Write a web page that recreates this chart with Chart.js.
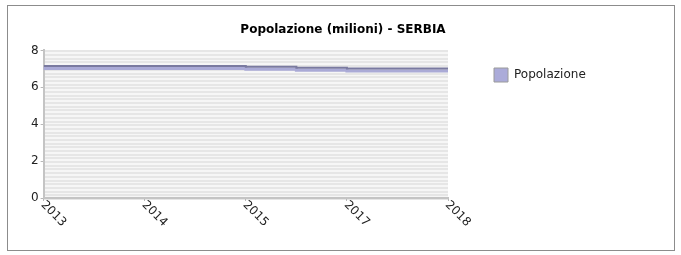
<!DOCTYPE html>
<html>
<head>
<meta charset="utf-8">
<script src="https://cdn.jsdelivr.net/npm/chart.js@4/dist/chart.umd.min.js"></script>
<style>
  body { margin: 0; background: #fff; }
  #box { position: absolute; left: 7px; top: 5px; width: 666px; height: 244px; border: 1px solid #8c8c8c; }
  #box canvas { display: block; }
</style>
</head>
<body>
<div id="box"><canvas id="popChart" width="666" height="244"></canvas></div>
<script>
// positions on the x axis (tick index), 2016 sits half way between 2015 and 2017
const xPos = [0, 1, 2, 2.5, 3, 4];
const popValues = [7.15, 7.15, 7.11, 7.06, 7.02, 7.02];
const xLabels = ["2013", "2014", "2015", "2017", "2018"];
const yTicks = [0, 2, 4, 6, 8];

const FONT = "'DejaVu Sans', sans-serif";
const LEGEND_W = 209;

// striped plot background
const stripes = {
  id: "stripes",
  beforeDraw(chart) {
    const { ctx, chartArea: a, scales } = chart;
    ctx.save();
    ctx.fillStyle = "#f6f6f6";
    ctx.fillRect(a.left, a.top, a.right - a.left, a.bottom - a.top);
    ctx.strokeStyle = "#e6e6e6";
    ctx.lineWidth = 2;
    for (let v = 0; v <= 8.001; v += 0.2) {
      const y = Math.round(scales.y.getPixelForValue(v)) + 1;
      ctx.beginPath();
      ctx.moveTo(a.left, y);
      ctx.lineTo(a.right, y);
      ctx.stroke();
    }
    ctx.restore();
  },
};

// light band under the step line
const band = {
  id: "band",
  beforeDatasetsDraw(chart) {
    const pts = chart.getDatasetMeta(0).data;
    const ctx = chart.ctx;
    ctx.save();
    ctx.strokeStyle = "#aaaad6";
    ctx.lineWidth = 3;
    ctx.translate(0, 2.5);
    ctx.beginPath();
    pts.forEach((p, i) => {
      if (i === 0) ctx.moveTo(p.x, p.y);
      else {
        ctx.lineTo(p.x, pts[i - 1].y);
        ctx.lineTo(p.x, p.y);
      }
    });
    ctx.stroke();
    ctx.restore();
  },
};

// rotated x tick labels (reading down to the right)
const xTickLabels = {
  id: "xTickLabels",
  afterDraw(chart) {
    const { ctx } = chart;
    const sx = chart.scales.x;
    ctx.save();
    ctx.font = "12px " + FONT;
    ctx.fillStyle = "#222";
    ctx.textAlign = "left";
    ctx.textBaseline = "middle";
    sx.ticks.forEach((t) => {
      const lbl = xLabels[Math.round(t.value)];
      if (lbl === undefined) return;
      const x = sx.getPixelForValue(t.value);
      ctx.save();
      ctx.translate(x - 1, sx.top + 5);
      ctx.rotate(Math.PI / 4);
      ctx.fillText(lbl, 0, 0);
      ctx.restore();
    });
    ctx.restore();
  },
};

// keep the legend column wide so the plot ends where the reference does
const wideLegend = {
  id: "wideLegend",
  afterInit(chart) {
    const lg = chart.legend;
    const fit = lg.fit;
    lg.fit = function () {
      fit.call(this);
      this.width = LEGEND_W;
    };
  },
};

new Chart(document.getElementById("popChart"), {
  type: "line",
  data: {
    datasets: [
      {
        label: "Popolazione",
        data: xPos.map((x, i) => ({ x: x, y: popValues[i] })),
        stepped: "before",
        borderColor: "#7a7aa0",
        backgroundColor: "#ababd9",
        borderWidth: 2,
        pointRadius: 0,
        fill: false,
      },
    ],
  },
  options: {
    responsive: false,
    animation: false,
    layout: { padding: { left: 21, right: 17, top: 16, bottom: 49 } },
    plugins: {
      title: {
        display: true,
        text: "Popolazione (milioni) - SERBIA",
        color: "#000",
        font: { family: FONT, size: 12, weight: "bold" },
        padding: { top: 1, bottom: 13 },
      },
      legend: {
        position: "right",
        align: "start",
        labels: {
          padding: 46,
          boxWidth: 14,
          boxHeight: 14,
          color: "#222",
          font: { family: FONT, size: 12 },
          generateLabels(chart) {
            return Chart.defaults.plugins.legend.labels
              .generateLabels(chart)
              .map((it) => Object.assign(it, { strokeStyle: "#9a9a9a", lineWidth: 1 }));
          },
        },
      },
      tooltip: { enabled: false },
    },
    scales: {
      x: {
        type: "linear",
        min: 0,
        max: 4,
        ticks: { display: false, stepSize: 1 },
        grid: { drawOnChartArea: false, tickLength: 3, color: "#b8b8b8" },
        border: { color: "#c4c4c4", width: 2 },
      },
      y: {
        min: 0,
        max: 8,
        afterBuildTicks(s) {
          s.ticks = yTicks.map((v) => ({ value: v }));
        },
        ticks: { color: "#222", padding: 2, font: { family: FONT, size: 12 } },
        grid: { drawOnChartArea: false, tickLength: 3, color: "#b8b8b8" },
        border: { color: "#c4c4c4", width: 2 },
      },
    },
  },
  plugins: [stripes, band, xTickLabels, wideLegend],
});
</script>
</body>
</html>
